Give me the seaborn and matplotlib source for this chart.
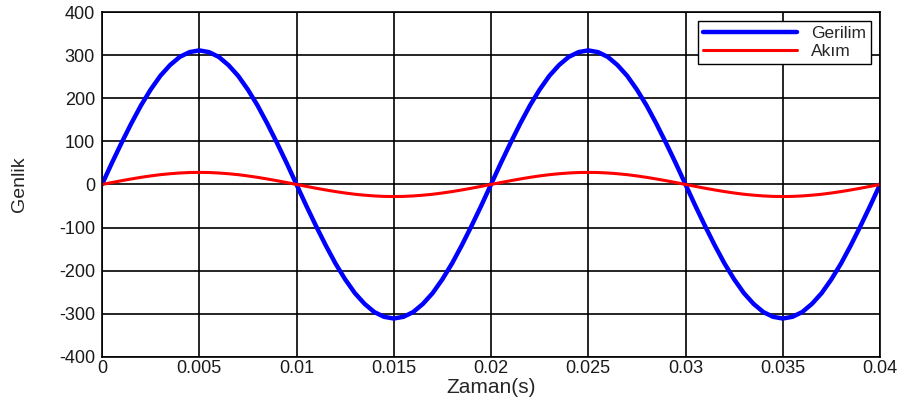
# -*- coding: utf-8 -*-
import numpy as np
import pandas as pd
import matplotlib
matplotlib.use("Agg")
import matplotlib.pyplot as plt
import seaborn as sns

# zaman ekseni (s), 0.0005 s adim
zaman = [round(i * 0.0005, 4) for i in range(81)]

# gerilim degerleri (V)
gerilim = [
    0, 49, 96, 141, 183, 220, 252, 277, 296, 307,
    311, 307, 296, 277, 252, 220, 183, 141, 96, 49,
    0, -49, -96, -141, -183, -220, -252, -277, -296, -307,
    -311, -307, -296, -277, -252, -220, -183, -141, -96, -49,
    0, 49, 96, 141, 183, 220, 252, 277, 296, 307,
    311, 307, 296, 277, 252, 220, 183, 141, 96, 49,
    0, -49, -96, -141, -183, -220, -252, -277, -296, -307,
    -311, -307, -296, -277, -252, -220, -183, -141, -96, -49,
    0,
]

# akim degerleri (A)
akim = [
    0, 4.4, 8.7, 12.7, 16.5, 19.8, 22.7, 24.9, 26.6, 27.7,
    28, 27.7, 26.6, 24.9, 22.7, 19.8, 16.5, 12.7, 8.7, 4.4,
    0, -4.4, -8.7, -12.7, -16.5, -19.8, -22.7, -24.9, -26.6, -27.7,
    -28, -27.7, -26.6, -24.9, -22.7, -19.8, -16.5, -12.7, -8.7, -4.4,
    0, 4.4, 8.7, 12.7, 16.5, 19.8, 22.7, 24.9, 26.6, 27.7,
    28, 27.7, 26.6, 24.9, 22.7, 19.8, 16.5, 12.7, 8.7, 4.4,
    0, -4.4, -8.7, -12.7, -16.5, -19.8, -22.7, -24.9, -26.6, -27.7,
    -28, -27.7, -26.6, -24.9, -22.7, -19.8, -16.5, -12.7, -8.7, -4.4,
    0,
]

x_ticks = [0, 0.005, 0.01, 0.015, 0.02, 0.025, 0.03, 0.035, 0.04]
x_tick_labels = ["0", "0.005", "0.01", "0.015", "0.02", "0.025", "0.03", "0.035", "0.04"]
y_ticks = [-400, -300, -200, -100, 0, 100, 200, 300, 400]

df = pd.DataFrame({"t": zaman, "Gerilim": gerilim, "Akim": akim})

sns.set_style("white")
plt.rcParams["font.family"] = ["Liberation Sans", "DejaVu Sans"]
plt.rcParams["axes.unicode_minus"] = False

fig = plt.figure(figsize=(9.05, 4.01), dpi=100)
ax = fig.add_axes([0.1127, 0.110, 0.8597, 0.860])

sns.lineplot(data=df, x="t", y="Gerilim", color="#0000ff", linewidth=3.2, ax=ax, label="Gerilim")
sns.lineplot(data=df, x="t", y="Akim", color="#ff0000", linewidth=2.2, ax=ax, label="Akım")

ax.set_xlim(0, 0.04)
ax.set_ylim(-400, 400)
ax.set_xticks(x_ticks)
ax.set_xticklabels(x_tick_labels)
ax.set_yticks(y_ticks)
ax.grid(True, color="black", linewidth=1.2)
ax.set_axisbelow(True)
ax.tick_params(axis="both", labelsize=13, direction="in", length=3, color="black",
               labelcolor="#1a1a1a")
ax.tick_params(axis="x", pad=2)
ax.tick_params(axis="y", pad=5)

for s in ax.spines.values():
    s.set_color("black")
    s.set_linewidth(1.2)

ax.set_xlabel("Zaman(s)", fontsize=15, labelpad=1)
ax.set_ylabel("Genlik", fontsize=14, labelpad=22)

leg = ax.legend(loc="upper right", fontsize=12.5, frameon=True, fancybox=False,
                edgecolor="black", framealpha=1, handlelength=5.4,
                borderaxespad=0.5, borderpad=0.3, labelspacing=0.15)
leg.get_frame().set_linewidth(1.0)

fig.savefig("out.png", dpi=100)
